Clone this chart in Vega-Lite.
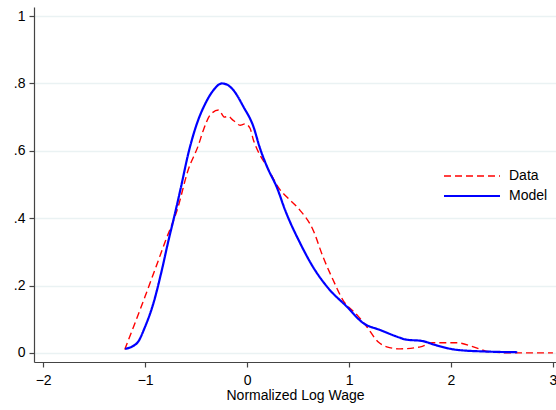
{
  "$schema": "https://vega.github.io/schema/vega-lite/v6.json",
  "width": 522,
  "height": 355,
  "autosize": {"type": "none"},
  "padding": {"left": 34, "top": 7, "right": 0, "bottom": 48},
  "background": "white",
  "config": {
    "view": {"stroke": null},
    "font": "Liberation Sans",
    "axis": {"domainColor": "#444", "tickColor": "#444", "labelColor": "#000", "labelFontSize": 14, "titleFontSize": 14, "titleFontWeight": "normal", "titleColor": "#000", "tickSize": 5, "domainWidth": 1.2, "tickWidth": 1.2}
  },
  "data": {"values": [
    {"series": "Data", "x": -1.2, "y": 0.01},
    {"series": "Data", "x": -1.1, "y": 0.088},
    {"series": "Data", "x": -1.0, "y": 0.168},
    {"series": "Data", "x": -0.9, "y": 0.25},
    {"series": "Data", "x": -0.8, "y": 0.333},
    {"series": "Data", "x": -0.686, "y": 0.424},
    {"series": "Data", "x": -0.578, "y": 0.543},
    {"series": "Data", "x": -0.477, "y": 0.617},
    {"series": "Data", "x": -0.428, "y": 0.662},
    {"series": "Data", "x": -0.363, "y": 0.706},
    {"series": "Data", "x": -0.28, "y": 0.721},
    {"series": "Data", "x": -0.22, "y": 0.7},
    {"series": "Data", "x": -0.19, "y": 0.703},
    {"series": "Data", "x": -0.134, "y": 0.69},
    {"series": "Data", "x": -0.069, "y": 0.676},
    {"series": "Data", "x": -0.02, "y": 0.68},
    {"series": "Data", "x": 0.029, "y": 0.667},
    {"series": "Data", "x": 0.062, "y": 0.632},
    {"series": "Data", "x": 0.095, "y": 0.607},
    {"series": "Data", "x": 0.196, "y": 0.552},
    {"series": "Data", "x": 0.324, "y": 0.484},
    {"series": "Data", "x": 0.4, "y": 0.46},
    {"series": "Data", "x": 0.5, "y": 0.43},
    {"series": "Data", "x": 0.647, "y": 0.365},
    {"series": "Data", "x": 0.745, "y": 0.285},
    {"series": "Data", "x": 0.843, "y": 0.217},
    {"series": "Data", "x": 0.94, "y": 0.157},
    {"series": "Data", "x": 1.078, "y": 0.113},
    {"series": "Data", "x": 1.176, "y": 0.077},
    {"series": "Data", "x": 1.284, "y": 0.033},
    {"series": "Data", "x": 1.37, "y": 0.018},
    {"series": "Data", "x": 1.5, "y": 0.012},
    {"series": "Data", "x": 1.7, "y": 0.018},
    {"series": "Data", "x": 1.82, "y": 0.03},
    {"series": "Data", "x": 2.06, "y": 0.03},
    {"series": "Data", "x": 2.22, "y": 0.018},
    {"series": "Data", "x": 2.38, "y": 0.003},
    {"series": "Data", "x": 2.6, "y": 0.0},
    {"series": "Data", "x": 3.0, "y": 0.0},
    {"series": "Model", "x": -1.196, "y": 0.012},
    {"series": "Model", "x": -1.08, "y": 0.029},
    {"series": "Model", "x": -1.0, "y": 0.078},
    {"series": "Model", "x": -0.919, "y": 0.147},
    {"series": "Model", "x": -0.836, "y": 0.246},
    {"series": "Model", "x": -0.77, "y": 0.335},
    {"series": "Model", "x": -0.722, "y": 0.395},
    {"series": "Model", "x": -0.65, "y": 0.49},
    {"series": "Model", "x": -0.578, "y": 0.59},
    {"series": "Model", "x": -0.493, "y": 0.68},
    {"series": "Model", "x": -0.41, "y": 0.74},
    {"series": "Model", "x": -0.33, "y": 0.78},
    {"series": "Model", "x": -0.248, "y": 0.8},
    {"series": "Model", "x": -0.2, "y": 0.797},
    {"series": "Model", "x": -0.134, "y": 0.78},
    {"series": "Model", "x": -0.036, "y": 0.731},
    {"series": "Model", "x": 0.062, "y": 0.672},
    {"series": "Model", "x": 0.127, "y": 0.607},
    {"series": "Model", "x": 0.2, "y": 0.55},
    {"series": "Model", "x": 0.294, "y": 0.49},
    {"series": "Model", "x": 0.373, "y": 0.424},
    {"series": "Model", "x": 0.52, "y": 0.326},
    {"series": "Model", "x": 0.647, "y": 0.255},
    {"series": "Model", "x": 0.794, "y": 0.193},
    {"series": "Model", "x": 0.98, "y": 0.137},
    {"series": "Model", "x": 1.137, "y": 0.089},
    {"series": "Model", "x": 1.304, "y": 0.068},
    {"series": "Model", "x": 1.5, "y": 0.045},
    {"series": "Model", "x": 1.55, "y": 0.04},
    {"series": "Model", "x": 1.725, "y": 0.035},
    {"series": "Model", "x": 1.84, "y": 0.024},
    {"series": "Model", "x": 2.06, "y": 0.009},
    {"series": "Model", "x": 2.35, "y": 0.004},
    {"series": "Model", "x": 2.65, "y": 0.002}
  ]},
  "mark": {"type": "line", "interpolate": "monotone"},
  "encoding": {
    "x": {"field": "x", "type": "quantitative", "title": "Normalized Log Wage",
      "scale": {"domain": [-2.09, 3.03], "nice": false, "zero": false},
      "axis": {"values": [-2, -1, 0, 1, 2, 3], "grid": false, "labelPadding": 6, "titlePadding": 1, "labelFlush": false}},
    "y": {"field": "y", "type": "quantitative", "title": null,
      "scale": {"domain": [-0.027, 1.027], "nice": false, "zero": false},
      "axis": {"values": [0, 0.2, 0.4, 0.6, 0.8, 1], "grid": true, "gridColor": "#eaf2f3", "gridWidth": 1.5, "labelPadding": 4,
        "labelExpr": "datum.value == 0 ? '0' : datum.value == 1 ? '1' : replace(format(datum.value, '.1f'), '0.', '.')"}},
    "color": {"field": "series", "type": "nominal", "title": null,
      "scale": {"domain": ["Data", "Model"], "range": ["#ff0000", "#0000ff"]},
      "legend": {"orient": "none", "legendX": 431, "legendY": 162, "symbolType": "M-5.6,0H5.6", "symbolSize": 100, "symbolStrokeWidth": 1.5, "labelFontSize": 14, "labelColor": "#000", "rowPadding": 6, "padding": 0, "labelOffset": 30}},
    "strokeDash": {"field": "series", "type": "nominal", "title": null,
      "scale": {"domain": ["Data", "Model"], "range": [[7, 4], [1, 0]]}},
    "strokeWidth": {"field": "series", "type": "nominal", "title": null,
      "scale": {"domain": ["Data", "Model"], "range": [1.4, 2.2]}, "legend": null}
  }
}
